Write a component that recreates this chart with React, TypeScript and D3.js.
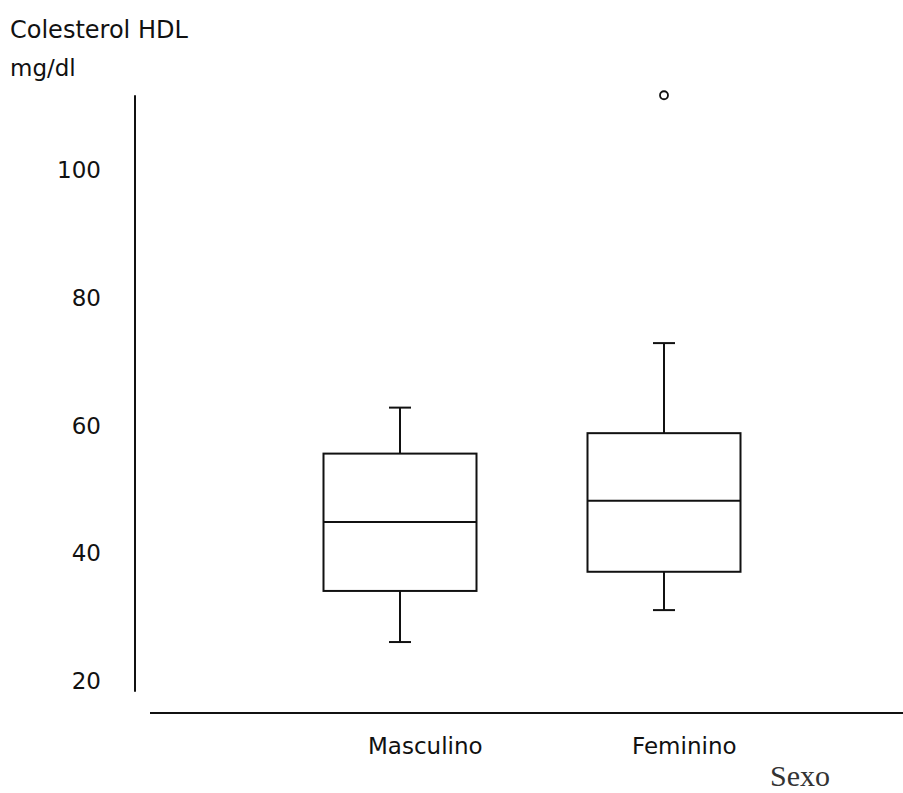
import React from "react";
import * as d3 from "d3";

const categories = ["Masculino", "Feminino"];
const whiskerLow = [26.1, 31.1];
const q1 = [34.1, 37.1];
const median = [44.9, 48.2];
const q3 = [55.6, 58.8];
const whiskerHigh = [62.8, 72.9];
const outliers = [[], [111.7]];
const yTicks = [20, 40, 60, 80, 100];

const W = 903;
const H = 793;

export default function App() {
  const y = d3.scaleLinear().domain([20, 100]).range([681, 170]);
  const x = d3.scalePoint<string>().domain(categories).range([400, 664]);
  const boxW = 153;
  const capW = 11;
  const sans = "DejaVu Sans, Verdana, sans-serif";
  return (
    <svg width={W} height={H} style={{ position: "absolute", left: 0, top: 0 }}>
      <rect width={W} height={H} fill="#fff" />
      <text x={10} y={38} fontFamily={sans} fontSize={24} fill="#111">Colesterol HDL</text>
      <text x={10} y={76} fontFamily={sans} fontSize={23} fill="#111">mg/dl</text>
      <line x1={135} x2={135} y1={y(111.7)} y2={y(18.3)} stroke="#111" strokeWidth={2} />
      {yTicks.map((t) => (
        <text key={t} x={101} y={y(t) + 8} textAnchor="end" fontFamily={sans} fontSize={23} fill="#111">
          {t}
        </text>
      ))}
      <line x1={150} x2={903} y1={713} y2={713} stroke="#111" strokeWidth={2} />
      {categories.map((c, i) => {
        const cx = x(c)!;
        return (
          <g key={c} stroke="#111" strokeWidth={2} fill="none">
            <line x1={cx} x2={cx} y1={y(whiskerHigh[i])} y2={y(q3[i])} />
            <line x1={cx} x2={cx} y1={y(q1[i])} y2={y(whiskerLow[i])} />
            <line x1={cx - capW} x2={cx + capW} y1={y(whiskerHigh[i])} y2={y(whiskerHigh[i])} />
            <line x1={cx - capW} x2={cx + capW} y1={y(whiskerLow[i])} y2={y(whiskerLow[i])} />
            <rect x={cx - boxW / 2} y={y(q3[i])} width={boxW} height={y(q1[i]) - y(q3[i])} />
            <line x1={cx - boxW / 2} x2={cx + boxW / 2} y1={y(median[i])} y2={y(median[i])} />
            {outliers[i].map((o, j) => (
              <circle key={j} cx={cx} cy={y(o)} r={4} strokeWidth={1.8} />
            ))}
            <text x={cx - 32} y={754} fontFamily={sans} fontSize={23} fill="#111" stroke="none">
              {c}
            </text>
          </g>
        );
      })}
      <text x={770} y={786} fontFamily="Liberation Serif, Times New Roman, serif" fontSize={30} fill="#333">Sexo</text>
    </svg>
  );
}
